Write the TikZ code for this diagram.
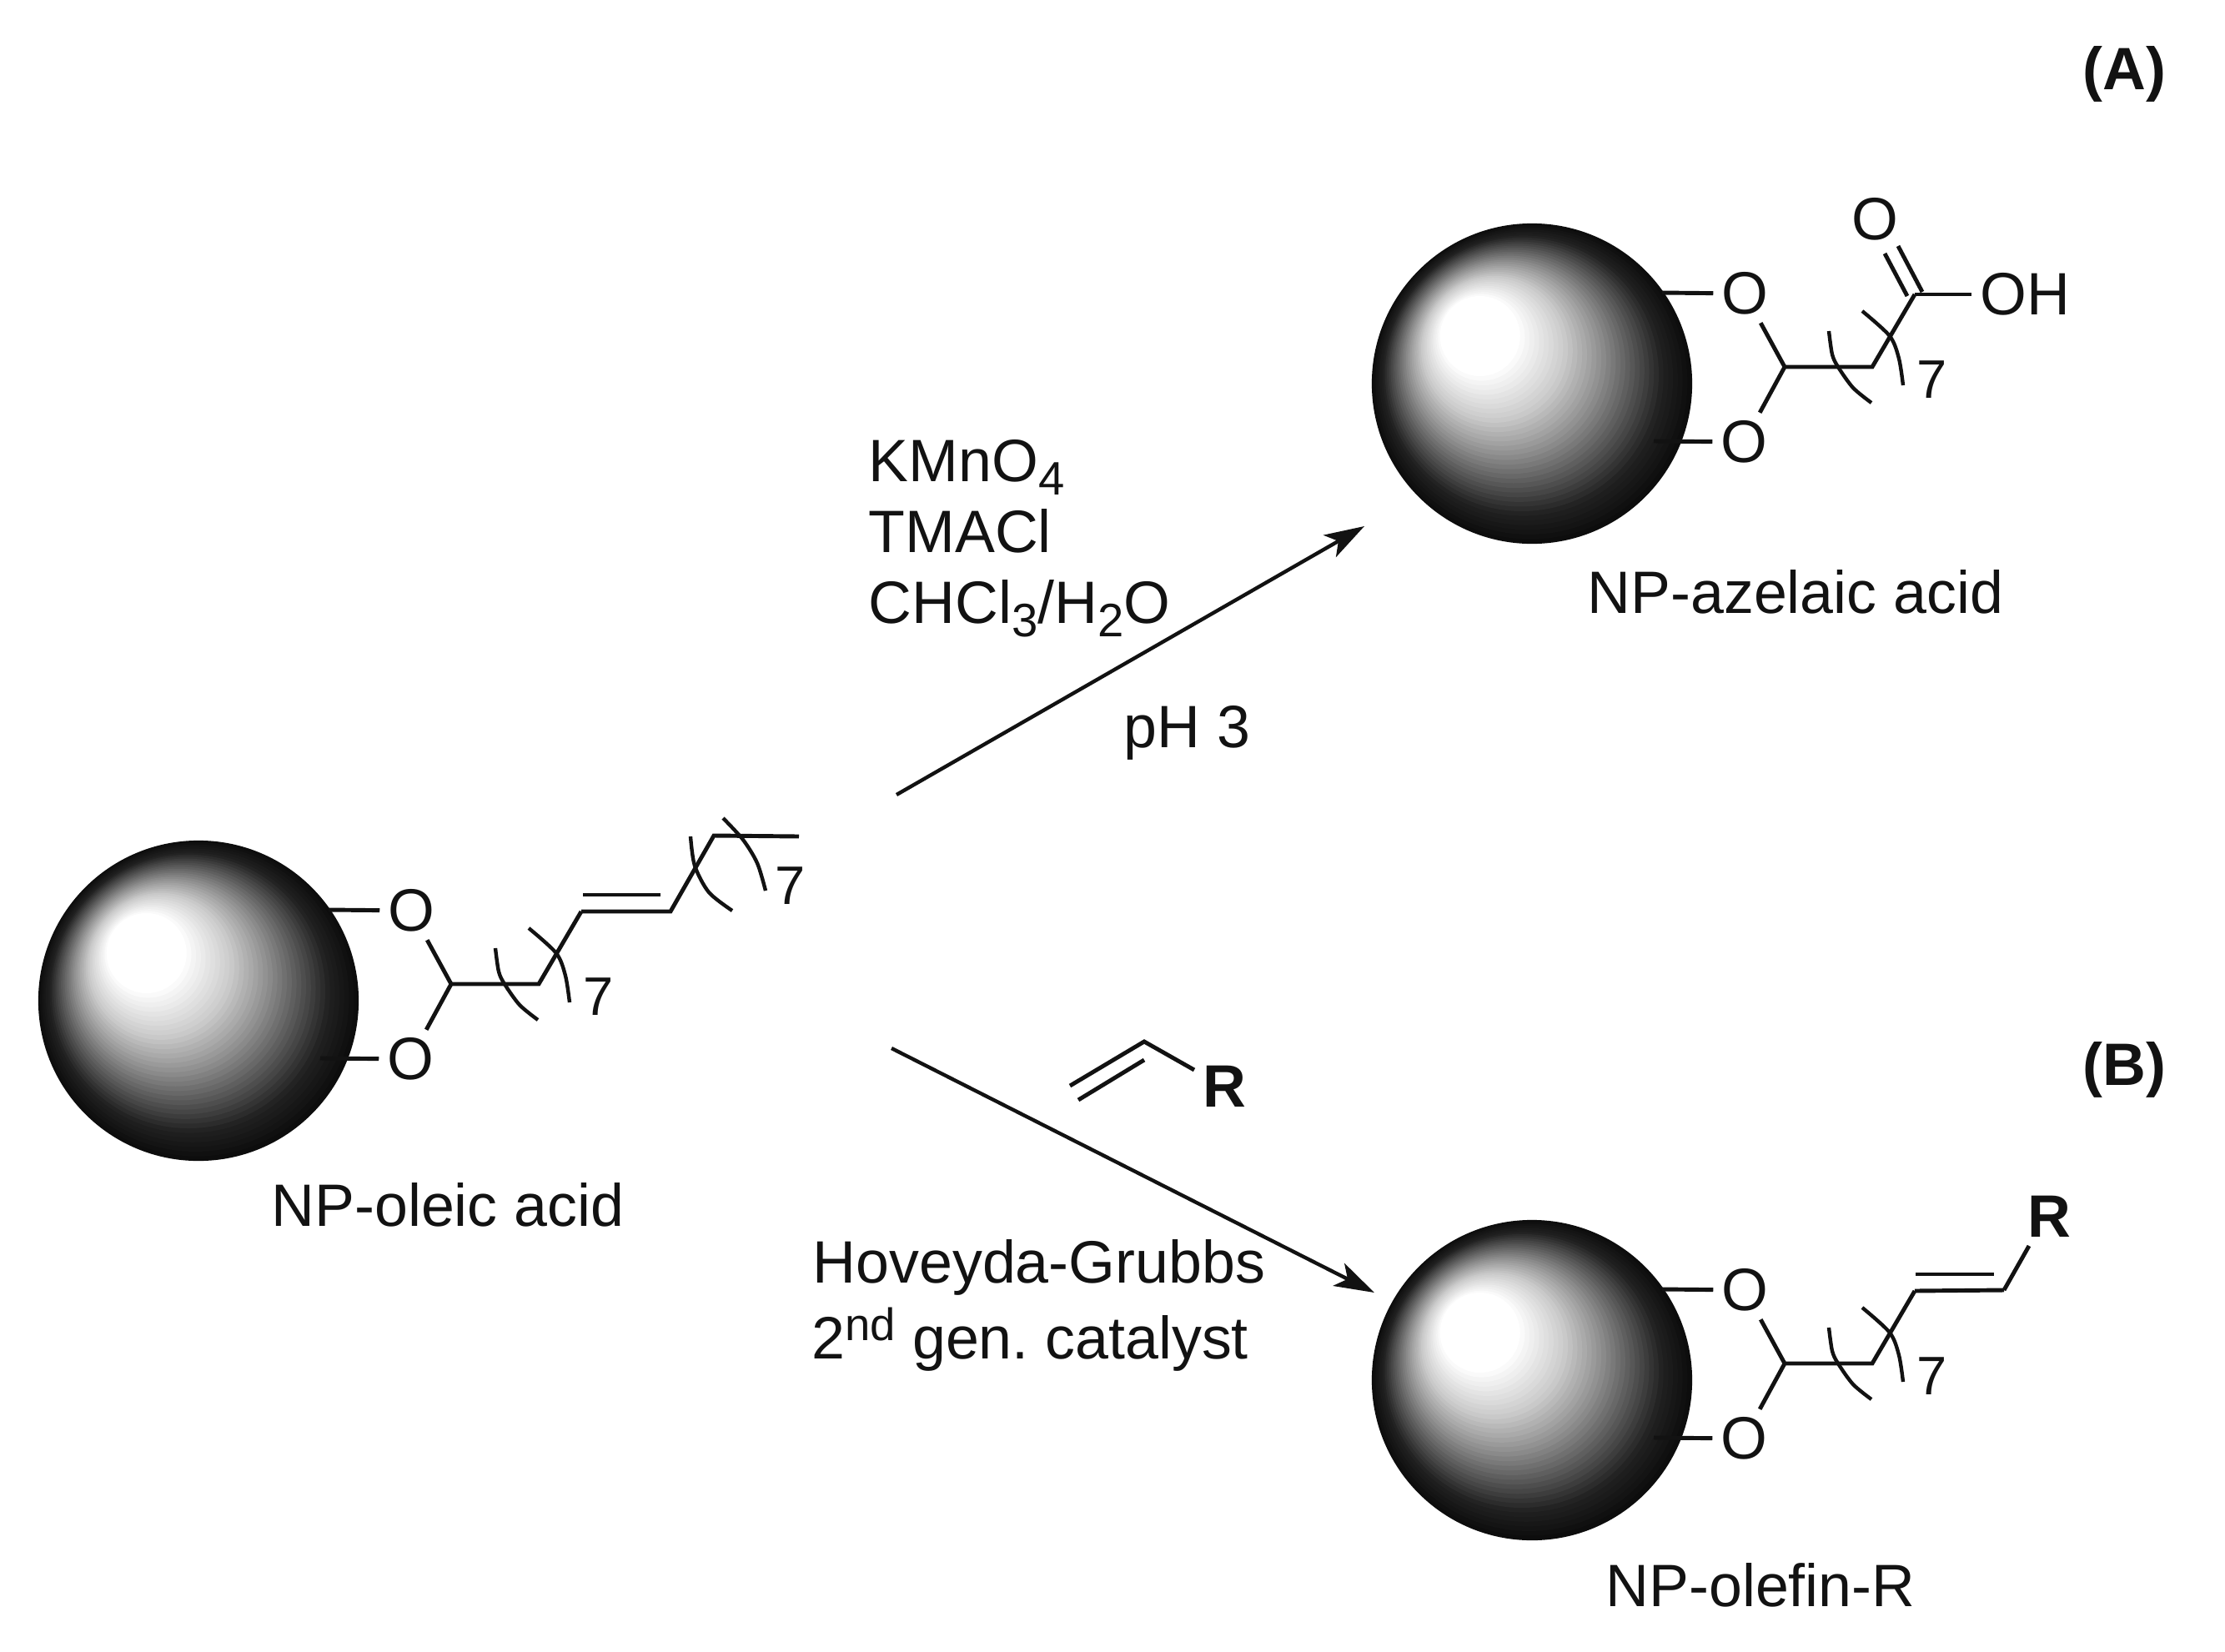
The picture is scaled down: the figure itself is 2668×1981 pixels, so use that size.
\documentclass[tikz,border=0pt]{standalone}
\usepackage{fontspec}
\setmainfont{Liberation Sans}
\usetikzlibrary{arrows.meta}
\definecolor{ink}{gray}{0.07}
\tikzset{
  lbl/.style={font=\fontsize{20.4}{24}\selectfont, text=ink, inner sep=0pt, anchor=base west},
  boldlbl/.style={lbl, font=\fontsize{20.4}{24}\selectfont\bfseries},
  atom/.style={font=\fontsize{20.4}{24}\selectfont, text=ink, inner sep=2.6pt, anchor=center},
  count/.style={font=\fontsize{18.5}{20}\selectfont, text=ink, inner sep=0pt, anchor=center},
  bond/.style={draw=ink, line width=1.4pt},
  bracket/.style={draw=ink, line width=1.25pt},
  rxn/.style={draw=ink, line width=1.25pt, -{Stealth[length=13.6pt,width=8.6pt,inset=3.4pt]}},
}
\newcommand{\mysub}[1]{\raisebox{-4.8pt}{\fontsize{16}{16}\selectfont #1}}
\newcommand{\mysup}[1]{\raisebox{6pt}{\fontsize{15.5}{15.5}\selectfont #1}}
\newcommand{\nphead}[3]{%
  \begin{scope}[shift={(#2,#3)}]
    \foreach \i in {48,47,...,1}{
      \pgfmathsetmacro{\t}{\i/48}
      \pgfmathsetmacro{\g}{max(0.05,(\t<0.25 ? 1 : (\t<0.45 ? 1-(\t-0.25)*1.0 : (\t<0.6 ? 0.8-(\t-0.45)*1.47 : (\t<0.75 ? 0.58-(\t-0.6)*1.6 : (\t<0.88 ? 0.34-(\t-0.75)*1.62 : 0.13-(\t-0.88)*0.67))))))}
      \pgfmathsetmacro{\r}{1.92*\t}
      \definecolor{sg}{gray}{\g}
      \fill[sg] ({-83*(1-\t)},{-76*(1-\t)}) circle[radius=\r cm];
    }
    \node[atom] (#1O1) at (255,-108) {O};
    \node[atom] (#1O2) at (254,70) {O};
    \coordinate (#1S1) at (156,-109);
    \coordinate (#1S2) at (146,69);
    \coordinate (#1C1) at (303,-20);
    \coordinate (#1C2) at (408,-20);
    \coordinate (#1C3) at (459,-107);
    \node[count] (#1n) at (480,-5) {7};
    \draw[bond] (#1S1) -- (#1O1);
    \draw[bond] (#1S2) -- (#1O2);
    \draw[bond] (#1O1) -- (#1C1) -- (#1O2);
    \draw[bond,line join=miter] (#1C1) -- (#1C2) -- (#1C3);
    \draw[bracket] plot[smooth] coordinates {(356,-63) (360,-35) (367,-20) (385,5) (407,23)};
    \draw[bracket] plot[smooth] coordinates {(396,-87) (429,-57) (440,-30) (445,2)};
  \end{scope}}
\begin{document}
\begin{tikzpicture}[x=0.01cm,y=-0.01cm]
\useasboundingbox (0,0) rectangle (2668,1981);
\fill[white] (0,0) rectangle (2668,1981);

% NP-oleic acid
\nphead{a}{238}{1200}
\coordinate (aD) at (804,1093);
\coordinate (aE) at (856,1002);
\coordinate (aF) at (958,1003);
\coordinate (aG1) at (699,1073);
\coordinate (aG2) at (792,1073);
\draw[bond] (aC3) -- (aD) -- (aE) -- (aF);
\draw[bond] (aG1) -- (aG2);
\draw[bracket] plot[smooth] coordinates {(828,1003) (833,1038) (850,1070) (878,1092)};
\draw[bracket] plot[smooth] coordinates {(867,981) (891,1007) (908,1035) (918,1068)};
\node[count] (an2) at (948,1062) {7};
\node[lbl] (la) at (325,1470) {NP-oleic acid};

% NP-azelaic acid
\nphead{b}{1837}{460}
\node[atom] (bOH) at (2428,353) {OH};
\node[atom] (bOd) at (2248,263) {O};
\coordinate (bD1a) at (2287,355);
\coordinate (bD1b) at (2260,304);
\coordinate (bD2a) at (2305,350);
\coordinate (bD2b) at (2276,295);
\draw[bond] (bC3) -- (bOH);
\draw[bond] (bD1a) -- (bD1b);
\draw[bond] (bD2a) -- (bD2b);
\node[lbl] (lb) at (1903,735) {NP-azelaic acid};

% NP-olefin-R
\nphead{c}{1837}{1655}
\coordinate (cD) at (2403,1547);
\coordinate (cG1) at (2297,1528);
\coordinate (cG2) at (2391,1528);
\node[boldlbl,anchor=center] (cR) at (2457,1459) {R};
\draw[bond] (cC3) -- (cD);
\draw[bond] (cG1) -- (cG2);
\coordinate (cRb) at (2433,1494);
\draw[bond] (cD) -- (cRb);
\node[lbl] (lc) at (1925,1926) {NP-olefin-R};

% Top reaction
\coordinate (t1) at (1075,953);
\coordinate (t2) at (1636,631);
\draw[rxn] (t1) -- (t2);
\node[lbl] (r1) at (1041,577) {KMnO\mysub{4}};
\node[lbl] (r2) at (1041,662) {TMACl};
\node[lbl] (r3) at (1041,747) {CHCl\mysub{3}/H\mysub{2}O};
\node[lbl] (r4) at (1347,896) {pH 3};
\node[boldlbl] (A) at (2497,107) {(A)};

% Bottom reaction
\coordinate (u1) at (1069,1257);
\coordinate (u2) at (1648,1550);
\draw[rxn] (u1) -- (u2);
\coordinate (v1) at (1283,1302);
\coordinate (v2) at (1372,1249);
\coordinate (v3) at (1432,1283);
\coordinate (v4) at (1293,1319);
\coordinate (v5) at (1372,1271);
\draw[bond] (v1) -- (v2) -- (v3);
\draw[bond] (v4) -- (v5);
\node[boldlbl] (vR) at (1442,1327) {R};
\node[lbl] (s1) at (974,1538) {Hoveyda-Grubbs};
\node[lbl] (s2) at (973,1629) {2\mysup{nd} gen.\ catalyst};
\node[boldlbl] (B) at (2497,1301) {(B)};
\end{tikzpicture}
\end{document}
